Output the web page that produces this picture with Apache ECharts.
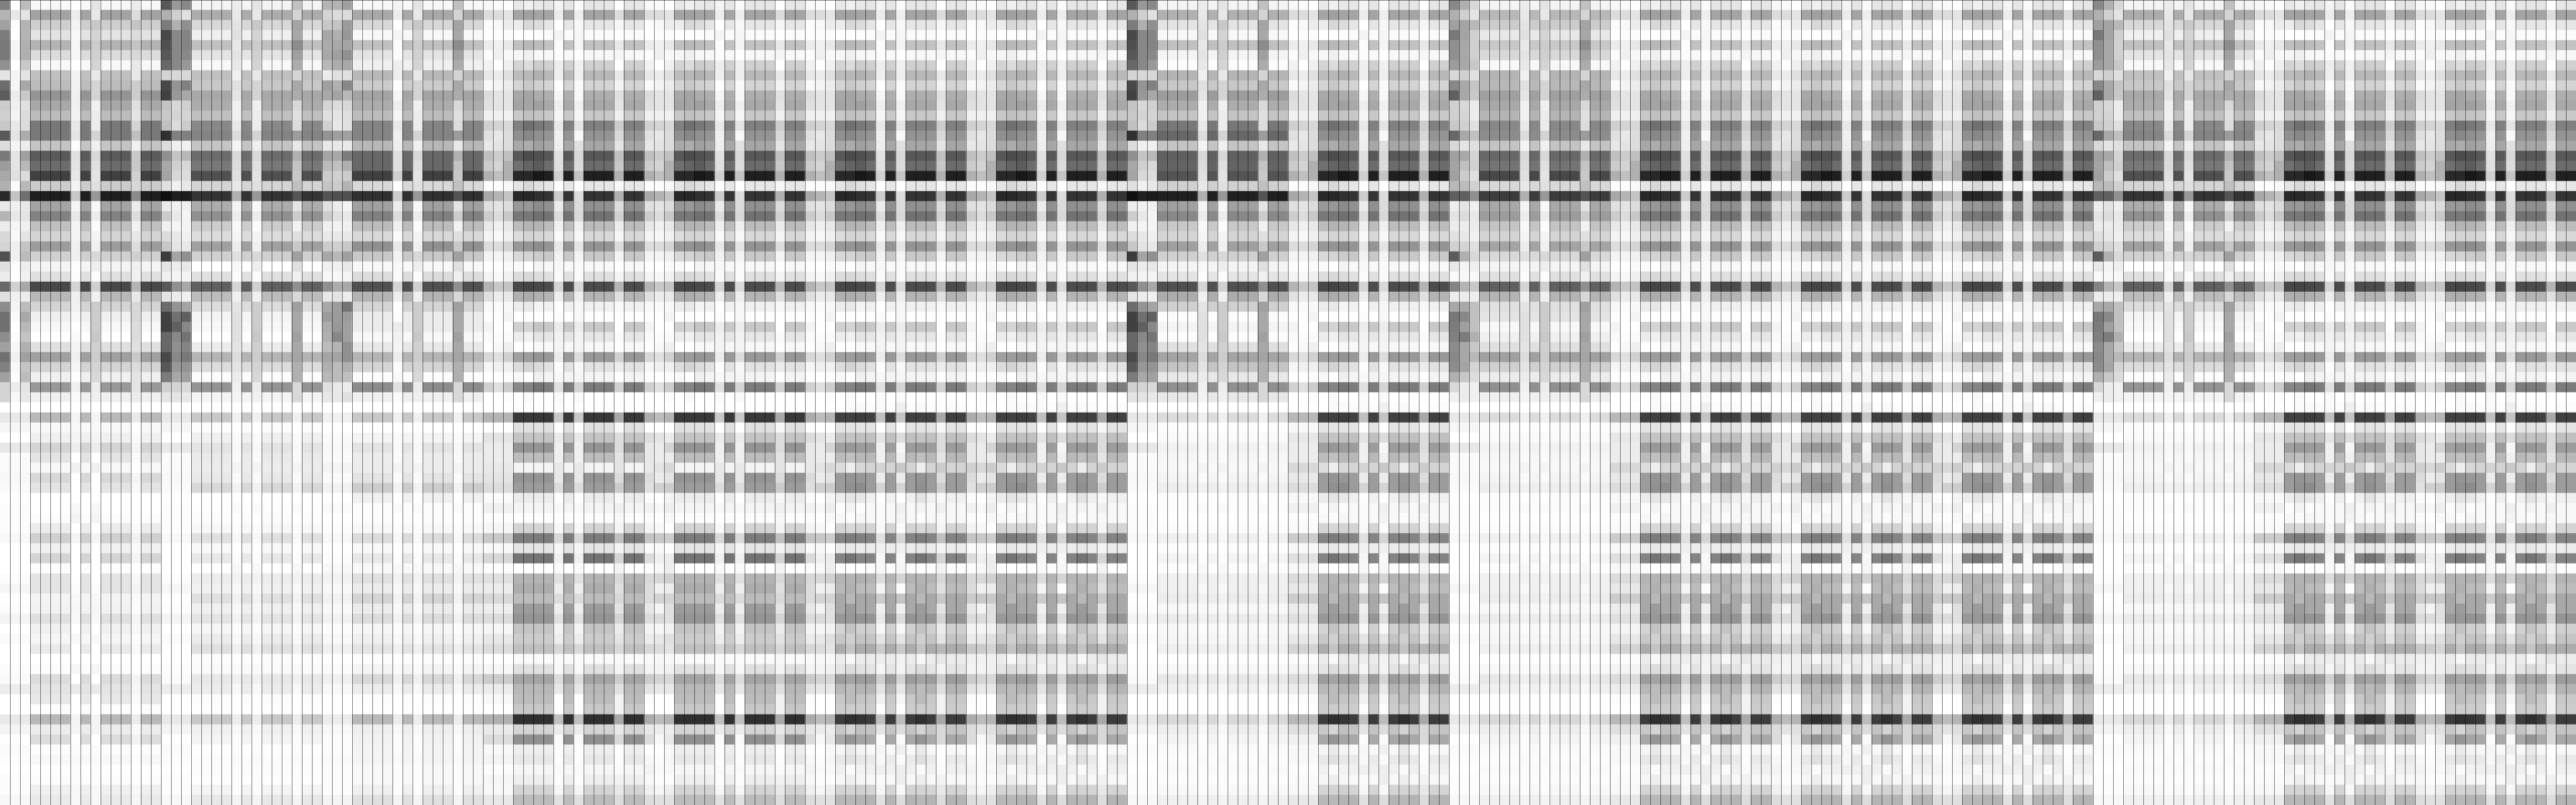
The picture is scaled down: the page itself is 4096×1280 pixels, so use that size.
<!DOCTYPE html>
<html>
<head>
<meta charset="utf-8">
<style>html,body{margin:0;padding:0;background:#fff}#c{width:4096px;height:1280px}</style>
<script src="https://cdn.jsdelivr.net/npm/echarts@6/dist/echarts.min.js"></script>
</head>
<body>
<div id="c"></div>
<script>
// Cell shades, as grey levels (hex), row by row.
const g = s => s.trim().split(/\s+/).map(h => parseInt(h, 16));

// Upper rows (0-39) - column profiles
const T0  = g('80 b4 a0 7c 78 78 90 e4 6c 5c  cc d0 c8 58 dc 78 9c a8 b0 28  e8 b4 ec d8 d4 50 e0 ec 68 e0  8c 70 70 8c a0 70 80 a0 d4 d4');
const T1  = g('ff e8 fc fe f6 f6 ff f4 f6 ec  f0 f4 e8 e4 f4 e4 e4 e0 fc c4  f0 e8 f6 f8 f0 f0 fc fe d0 f0  f4 fa ff fc f8 f0 f8 fc ec f8');
const T2  = g('bc e4 b4 b4 b0 b0 c8 e4 a8 c8  e0 dc dc ac ec a0 b8 dc b8 70  e8 e4 f0 e4 c4 bc ec f0 a8 ec  bc a8 b8 c4 b0 a0 c4 bc e4 e8');
const TA  = g('f8 a3 ce e3 b3 dc f8 c0 bc 94  a8 bc 78 78 c4 5a 6c 40 cc 1f  a4 82 c0 d4 9c d0 f4 e0 48 b8  d4 f0 f8 ff e0 a0 d4 f0 98 f0');
const LA4 = g('ff ec f4 f8 f6 f6 fe f2 f2 f0  f0 f2 e8 e4 fc e0 e4 e8 f4 c8  f4 e8 f4 f4 f0 f0 fe fc d4 f0  f0 f8 fe fa f4 f0 f6 fe f0 fa');
const LA10= g('ec dc c4 dc c4 d8 e8 e8 cc cc  e0 e4 d4 c0 f0 c8 c8 d0 d8 8c  ec dc f2 e8 dc d0 f0 f0 b4 e8  d8 d8 dc dc e0 c8 dc e4 e4 ec');
const X1  = g('58 b0 7c 48 50 58 68 d4 48 40  c4 c8 c0 30 dc 90 a8 a4 e0 10  ec cc f0 dc c8 3c e4 f0 58 e4  6c 40 40 68 68 48 58 7c d0 e4');
const X2  = g('98 d0 b0 88 88 88 88 d8 94 98  d8 d4 dc 80 f0 c4 d0 d8 f0 20  f0 e8 f4 e8 e4 a4 ec f4 90 ec  94 70 60 88 90 88 98 a8 d4 e4');
const X3  = g('88 e0 90 84 84 88 98 d8 80 a8  d0 d4 cc 80 f0 b8 d8 dc e8 1c  f0 f4 f4 f0 e8 90 e8 f4 a8 f0  a4 60 88 74 84 78 94 a0 d8 e8');
const TB  = g('f4 ac d8 f0 c0 e4 f8 c0 c8 a8  ac c0 88 84 c4 6c 78 50 d4 34  ac 90 cc dc a0 d0 ff e0 60 bc  dc f4 f8 ff ec b4 dc fc 94 f4');
const XL4 = g('ec e8 e4 e0 e8 e4 e8 f0 e0 e4  f0 f0 e8 dc f4 d8 dc e0 e8 b0  f4 ec f8 f4 ec e0 f8 fc d4 f0  e4 e0 e0 e0 e4 dc e4 ec f0 f4');
const XL6 = g('e4 e8 c8 d4 cc d0 d4 e8 d4 d4  f0 ec ec d4 f0 d8 e0 e4 e0 98  f8 ec fc f4 f0 d8 ee fc d0 f0  cc cc cc c8 d0 cc d4 d8 ec f0');
const X10 = g('c0 d4 a4 a8 8c a0 ac d4 a8 ac  d8 e0 dc 9c e8 b0 c4 c8 c0 54  e4 cc f2 e0 c8 a0 e0 f0 90 d8  a0 a8 a8 a0 a8 a4 b0 b0 d8 d8');
const G1  = g('b4 d4 c8 a8 ac a8 b8 ec a0 a8  d4 e0 d0 94 e8 a4 bc cc c4 54  e0 cc f0 e8 cc a8 f0 f8 90 e8  a8 9c ac b0 bc a4 b0 b8 e0 e8');
const G2  = g('b4 dc c4 b0 a8 a0 ac e0 b0 a4  dc e4 e8 a0 e8 a8 c0 d0 cc 50  ec e0 f2 e8 d0 b8 f0 f8 ac e4  9c 9c 98 88 b4 a4 bc bc e8 e8');
const G3  = g('a0 dc 9c 98 a4 90 a8 e0 88 b8  d8 e0 e0 a0 e8 7c b0 cc b4 50  f4 e8 f0 e8 c8 a0 e8 f4 a8 ec  74 9c a0 a0 90 90 b0 c0 ec e0');
const TC  = g('f8 a8 d8 f8 c0 e4 f0 b8 cc a4  ac bc 84 84 b8 68 68 40 d8 30  a0 80 bc d8 90 c8 f8 dc 50 b4  d4 ec ec f8 e8 b4 d4 fc 8c f0');
const L4  = g('f4 ec ff f4 fc fc ee ee fe f6  ee f6 e8 f0 ee e0 e0 d0 fe cc  ec dc f0 fa e8 f2 f8 fa d4 ee  fe fc ec f2 f4 ec fc f8 e0 fa');
const L6  = g('fa ee f8 f6 f4 ff f0 ee fa f8  f0 f6 e4 f8 e0 d8 dc c4 ff dc  dc d8 f0 f8 e4 f4 fa fa d8 ee  f6 f8 ec f2 f4 dc f8 f6 d4 fa');
const L10 = g('ff dc f6 ff e8 f6 ff e8 f4 e0  e4 f0 cc d8 e4 c0 c8 b0 f8 b0  dc d0 ec f6 dc f4 fe f4 b4 e0  f8 ff fe fa fe d0 ec fe d0 ff');
const T13 = g('f8 dc fc fe ec fc f2 e8 fa dc  e0 f0 d0 e0 e8 c0 cc b0 fc a8  e0 cc e8 f4 dc f4 fe f4 b4 e0  f8 fe f4 fa fe d8 f6 fe d0 ff');
const T14 = g('fa dc f8 fc f0 f0 ff ec f4 e4  e4 f0 d4 e8 e4 cc d4 c0 fc b4  e4 dc f0 f8 dc f4 ff f8 c8 ec  fa fe ff fc f8 e0 f0 ff e0 ff');
const T15 = g('ff e4 ec fc e8 f8 f0 e0 ec e4  e4 f0 d8 dc dc c0 b0 b0 f8 c4  dc c8 e8 f0 d4 f0 fa f0 c4 e8  f8 f4 fe fa f0 d0 f0 fc cc fc');
const D0  = g('e8 a4 ec ff c0 f6 d4 bc d4 a8  a4 c8 80 90 a8 58 70 28 e4 28  98 78 bc dc 98 d8 fa dc 48 b0  ec ff d0 ec ff a0 dc f8 88 ff');
const D1  = g('f0 a0 d8 fe b8 f0 dc b8 c8 a4  a4 c0 70 88 ac 4c 64 28 d8 28  98 78 b4 d4 94 d4 ff d8 44 ac  e8 fe d4 f0 fe 9c d4 ff 84 fa');
const D2  = g('e8 a4 dc fc bc f8 cc b0 d0 ac  a0 c4 78 90 a0 50 5c 18 e0 30  8c 70 b4 d4 8c cc f4 dc 48 b0  f4 fe c4 e4 f8 94 dc f0 74 ff');
const D3  = g('e6 a4 e6 fb c2 f8 d0 b8 d4 ae  a8 c8 80 94 a6 58 6c 20 e6 34  90 72 bc d8 94 c8 f8 e0 4c b4  f0 fe c8 e6 f8 98 e2 f4 7c ff');
const TE  = g('f4 b0 e4 f8 c0 f4 fc b4 c8 9c  ac c4 78 68 c4 60 64 54 d0 20  a0 88 c8 d4 a0 d0 f4 e4 50 ac  d0 fc f4 fc e0 a4 c4 e8 90 e8');
const TF  = g('f4 b8 cc e8 c8 d8 f8 b4 b8 a0  a8 b4 88 8c c4 68 74 48 d8 3c  a8 9c c4 d4 a4 d8 f4 e0 60 b4  e0 e4 f8 f0 e0 a0 d0 ec 90 f0');
const Y1  = g('88 b0 a0 78 90 90 9c d8 88 60  d0 d0 c8 68 d8 a0 a4 a0 b8 60  ee e4 ec e0 d0 5c e8 fa 84 ec  a8 78 7c 80 8c 88 8c b0 d8 f0');
const Y2  = g('b0 d0 a4 a4 a8 a8 a8 d0 a8 a8  d8 d4 d0 a8 e4 a8 c0 cc bc 60  e4 dc ec e8 d4 b0 f4 f8 b4 ec  a8 88 a0 7c a8 a8 a4 c8 ec ec');
const Y3  = g('d8 e4 b8 d0 d0 d0 c8 e0 c4 c8  ec ec e0 c0 e0 d4 d0 e0 d0 90  f0 e8 ec f0 e0 d8 ee f8 c8 ee  c0 c0 c0 b0 c8 b8 d4 dc f0 f0');

// Lower rows (40-79) - column profiles
const BW  = g('ff e8 f6 ff e8 fa fa f8 fa fe  fc fc fc f8 ff ff ff fc f6 fe  fc f4 ff fa ff ff fc fa ec ff  ff e8 f4 fe fa fc ff fc fc f8');
const BA  = g('ff b8 f8 f0 d4 e4 f8 d8 e4 ff  ff fc ec d0 f0 d4 fc e4 e4 f4  f2 e0 f0 f6 ea ff fc dc e4 e8  fc b8 ec dc fc f8 fe fc f0 ea');
const BA4 = g('ff f4 f8 f4 ec ff f0 ff ff ff  f8 f4 ff f4 ff ff ff ff fc f8  f6 f8 ff f8 ff ff f6 ff ea ff  ff f4 f4 ff fc fa fc fc f8 f8');
const BA10= g('ff e8 ff fa f4 fa ff f4 f8 ff  ff fe fa f2 fa f4 ff f8 f4 fa  fc f4 f8 fc f8 ff fe f4 f6 fa  ff ec fa f2 ff fc ff fe f8 f6');
const BB  = g('ff c8 fc f0 e4 ea ec e8 d8 ff  fe fc f8 e0 f8 e8 fe ec f0 e0  f0 e4 f6 ec e0 fc fa e8 ec fc  fe c8 f0 f4 fe fc fc fe f4 e8');
const BC  = g('ff c8 fe f4 e4 ec ec e4 cc f0  fc fc f8 dc f8 e8 f8 e0 ec d4  ec dc f6 f0 e4 fc f4 d8 ec fc  fe b8 ee f2 f4 f4 f8 f8 f0 e0');
const BL  = g('ff f0 ff fa f8 fa f4 fa f2 ff  fa ff fc f8 fe fc f8 f2 f8 f2  f8 f2 fc f8 f0 fe fa f0 f8 ff  ff ec f8 fc fc fa fc fc fc f4');
const B48 = g('ff b4 fe e4 ec ec e8 e4 dc fa  f0 fc f6 c8 f8 d8 fc e0 ec d8  ee dc f6 e8 dc fe f6 cc ec f8  ff b0 ea dc f8 f4 fc f6 f8 e8');
const B48L= g('ff b8 f8 e8 ec ec d8 e8 dc f8  f0 fc fa cc f8 e0 f8 dc e8 cc  ec e0 f4 e8 d4 fc f4 dc ec fc  ff b8 e0 f0 f8 f8 fc fa f8 e8');
const BD  = g('ff dc fc fa f2 f6 f8 f4 ee fc  fc fe fc f0 fc f4 fc f0 f0 ec  f8 ec f8 f6 f0 fe f8 e8 f0 fe  fe d8 ee f4 fa fc fa fc f8 f0');
const S   = g('ff 38 e0 c4 94 bc f4 94 9c ec  f4 fc d4 7c e4 74 ff b4 ac bc  9c 94 c4 cc c0 fa e0 a4 b8 bc  c8 30 d4 90 ee e8 f6 ee d4 bc');
const S4  = g('fe c8 fe ea f0 f0 e8 e8 dc fe  f8 fe f8 d8 f6 f0 fa e0 ee dc  ee e0 f4 ee d8 fa f8 dc e8 fe  fe c0 ec fa fc fc fa fc f6 e0');
const S10 = g('ff a8 f8 dc dc e4 e4 dc cc f8  f0 f8 f4 c0 f4 d4 f4 d8 e0 d8  e4 d4 ec e4 d8 f8 f4 cc e0 f2  f2 a8 e8 d8 fe fc fa f2 e8 dc');
const S13 = g('ff ac fe dc e8 e8 e8 dc e0 fc  f2 fc f4 c4 fa dc fc d8 dc dc  e8 dc f4 ec d8 fa f4 cc e4 fc  ff ac e8 dc fe f8 f4 f8 f0 dc');
const S14 = g('ff bc ff e4 ec ec e4 ec d0 ff  f8 fe f8 c8 f8 f0 f8 d8 f0 d4  f4 dc f6 e8 dc f8 f4 d4 e8 ff  ff bc ec f8 fe fc fa fc f6 e0');
const S15 = g('ff b4 ff ec d4 ec d8 e4 cc f4  ee f8 ff cc fe ec ee d0 ec d4  e0 e0 f2 e0 e4 f8 f0 d8 e8 ff  ff b4 ec e8 f8 f6 f8 fc ee e0');
const SL0 = g('ff 40 e4 c4 a0 bc dc 9c 9c ec  fc f8 d4 84 ec 84 fc b4 b8 a8  a8 98 d4 c8 ac ec e4 9c b8 c8  cc 3c c8 a8 f6 e8 f0 f6 d4 b8');
const SL1 = g('fa 40 e4 c4 98 c0 ee 94 90 e4  f4 fc d8 7c e8 74 ff b4 b0 b8  9c 98 c4 d0 c4 f8 dc a4 bc bc  cc 30 d4 94 ea e0 fa ee d4 b8');
const SL2 = g('fa 3c e4 c0 9c b8 d8 98 8c e8  fc f6 d4 80 ec 84 ff b0 bc a8  a8 94 d0 c4 ac ec e0 9c b4 c4  cc 34 c0 a4 f4 e8 f2 f6 d0 b4');
const SL3 = g('fc 40 e4 c0 9c b8 d4 9c 9c f0  f8 f8 d4 84 ec 84 fc b4 bc a8  a8 94 d0 c4 ac ec e4 9c b4 c8  cc 3c c4 a8 f8 ea f0 f8 d4 b4');
const SL4 = g('fa c0 ff e4 f0 f0 d4 ec d4 fe  fa fa f8 e0 f0 f6 f8 dc f4 cc  f0 e8 f8 e4 cc ee f6 d0 e4 f2  fe c0 e4 fc f6 f8 f0 fa f6 e0');
const SL6 = g('f0 c4 fe dc f6 f0 c8 ec d4 fe  f0 f4 fb d4 f0 f8 f6 d4 fc c4  f0 dc f8 e4 c8 f2 f4 d4 e8 f6  fe bc dc fa f0 fa ee ee f8 dc');
const SL10= g('ff a8 f8 dc dc e4 cc dc cc f8  f0 f8 f4 c0 f4 d4 f4 d8 e0 c8  e4 d4 ec e4 b8 e8 f4 cc e0 f2  f2 a8 d8 d8 fe fc fa f2 e8 dc');
const SL13= g('ff ac fe dc e8 e8 d0 dc e0 fc  f2 fc f4 c4 fa dc fc d8 dc cc  e8 dc f4 ec c8 f0 f4 cc e4 fc  ff ac dc dc fe f8 f4 f8 f0 dc');
const SL14= g('ff bc ff e4 ec ec d8 ec d0 ff  f8 fe f8 c8 f8 f0 f8 d8 f0 c8  f4 dc f6 e8 cc f2 f4 d4 e8 ff  ff bc e4 f8 fe fc fa fc f6 e0');
const SL15= g('ff b4 ff ec d4 ec cc e4 cc f4  ee f8 ff cc fe ec ee d0 ec c8  e0 e0 f2 e0 d4 f0 f0 d8 e8 ff  ff b4 e0 e8 f8 f6 f8 fc ee e0');

// 16-column repeat seen across the chart
const pat = (d0, d1, d2, d3, d8, a, b, c, p, q, r) =>
  [d0, d1, d2, d3, a, d3, b, d3, d8, d3, c, d3, d3, p, q, r];
const flat = (d, a, b, c, p, q, r) => pat(d, d, d, d, d, a, b, c, p, q, r);
const topStrong = (p, q, r) => pat(D0, D1, D2, D3, D3, L4, L6, L10, p, q, r);
const lowEarly = (p, q, r) => flat(S, S4, S4, S10, p, q, r);
const lowLate = (p, q, r) => pat(SL0, SL1, SL2, SL3, SL1, SL4, SL6, SL10, p, q, r);

const topColumns = [T0, T1, T2].concat(
  flat(TA, LA4, XL6, LA10, X1, X2, X3),
  flat(TB, XL4, XL6, X10, G1, G2, G3),
  flat(TC, L4, XL6, X10, T13, T14, T15),
  topStrong(T13, T14, T15),
  topStrong(T13, T14, T15),
  topStrong(T13, T14, T15),
  topStrong(X1, X2, X3),
  flat(TE, XL4, XL6, X10, T13, T14, T15),
  topStrong(Y1, Y2, Y3),
  flat(TF, XL4, XL6, X10, T13, T14, T15),
  topStrong(T13, T14, T15),
  topStrong(T13, T14, T15),
  topStrong(Y1, Y2, Y3),
  flat(TB, XL4, XL6, X10, T13, T14, T15),
  topStrong(T13, T14, T15),
  topStrong(T13, T14, T15)
).slice(0, 256);

const bottomColumns = [BW, BW, BW].concat(
  flat(BA, BA4, BA4, BA10, BW, BW, BW),
  flat(BB, BL, BL, BL, BL, BL, BL),
  flat(BC, BL, BL, BL, B48, B48, B48),
  lowEarly(S13, S14, S15),
  lowEarly(S13, S14, S15),
  lowLate(SL13, SL14, SL15),
  lowLate(BW, BW, BW),
  flat(BD, BL, BL, BL, B48L, B48L, B48L),
  lowLate(BW, BW, BW),
  flat(BD, BL, BL, BL, B48L, B48L, B48L),
  lowLate(SL13, SL14, SL15),
  lowLate(SL13, SL14, SL15),
  lowLate(BW, BW, BW),
  flat(BD, BL, BL, BL, B48L, B48L, B48L),
  lowLate(SL13, SL14, SL15),
  lowLate(SL13, SL14, SL15)
).slice(0, 256);

const columns = topColumns.map((_, i) => i);
const rows = Array.from({length: 80}, (_, i) => i);
const cells = [];
columns.forEach(c => {
  const shades = topColumns[c].concat(bottomColumns[c]);
  rows.forEach(r => cells.push([c, r, 255 - shades[r]]));
});

const hidden = {axisLabel: {show: false}, axisTick: {show: false}};
const chart = echarts.init(document.getElementById('c'), null, {renderer: 'canvas'});
chart.setOption({
  animation: false,
  backgroundColor: '#fff',
  tooltip: {show: false},
  grid: {left: 0, right: 0, top: 0, bottom: 0, containLabel: false},
  xAxis: [
    Object.assign({type: 'category', data: columns, position: 'bottom', z: 5,
      axisLine: {show: true, onZero: false, lineStyle: {color: '#000', width: 0.533}},
      splitLine: {show: true, interval: 0, showMinLine: false, lineStyle: {color: '#000', width: 0.533}},
      splitArea: {show: false}}, hidden),
    Object.assign({type: 'category', data: columns, position: 'top', z: 5,
      axisLine: {show: true, onZero: false, lineStyle: {color: '#000', width: 0.533}},
      splitLine: {show: false}}, hidden)
  ],
  yAxis: Object.assign({type: 'category', data: rows, inverse: true,
    axisLine: {show: false}, splitLine: {show: false}, splitArea: {show: false}}, hidden),
  visualMap: {show: false, type: 'continuous', min: 0, max: 255, dimension: 2,
    inRange: {color: ['#ffffff', '#000000']}},
  series: [{type: 'heatmap', data: cells, xAxisIndex: 0, yAxisIndex: 0, z: 2,
    progressive: 0, silent: true, itemStyle: {borderWidth: 0},
    emphasis: {disabled: true}, label: {show: false}}]
});
</script>
</body>
</html>
